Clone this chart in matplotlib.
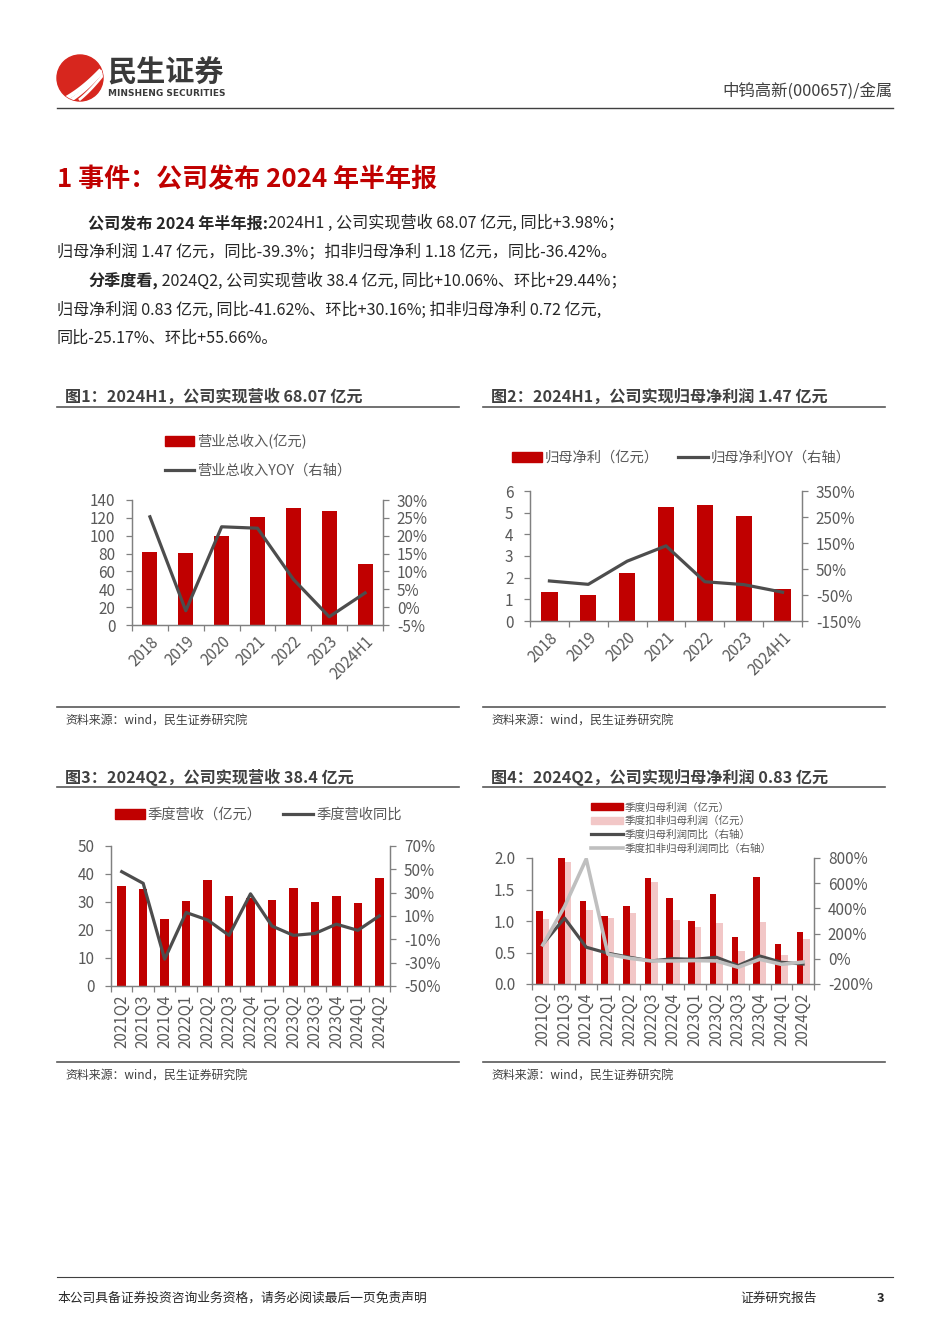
import matplotlib
matplotlib.use('Agg')
import matplotlib.pyplot as plt
import numpy as np
from matplotlib.lines import Line2D
from matplotlib.patches import Circle, Patch

plt.rcParams['font.family'] = ['Noto Sans CJK SC', 'DejaVu Sans']
plt.rcParams['axes.unicode_minus'] = False

W, H = 950, 1344
RED = '#C00000'
PINK = '#F2C7C7'
DARK = '#4D4D4D'
LIGHT = '#BFBFBF'
TICK = '#595959'
TXT = '#262626'
SPINE = '#808080'

# ---- data ----
years = ['2018', '2019', '2020', '2021', '2022', '2023', '2024H1']
revenue = [82.2, 81.0, 99.7, 121.3, 131.3, 127.6, 68.07]
revenue_yoy = [25.3, -1.0, 22.5, 22.1, 7.8, -2.7, 3.98]
net_profit = [1.35, 1.22, 2.22, 5.28, 5.35, 4.85, 1.47]
net_profit_yoy = [4, -9, 80, 139, 1, -10, -39.3]

quarters = ['2021Q2', '2021Q3', '2021Q4', '2022Q1', '2022Q2', '2022Q3', '2022Q4',
            '2023Q1', '2023Q2', '2023Q3', '2023Q4', '2024Q1', '2024Q2']
q_revenue = [35.6, 34.6, 24.0, 30.2, 37.7, 32.0, 31.6, 30.6, 35.0, 30.0, 32.0, 29.8, 38.4]
q_revenue_yoy = [48, 38, -27, 13, 6.6, -6.6, 29, 1.4, -6.6, -5, 3, -2.3, 10.06]
q_profit = [1.16, 2.02, 1.31, 1.08, 1.24, 1.69, 1.37, 1.00, 1.43, 0.74, 1.70, 0.64, 0.83]
q_profit_ded = [1.03, 1.93, 1.18, 1.05, 1.12, 1.62, 1.02, 0.90, 0.97, 0.52, 0.98, 0.46, 0.72]
q_profit_yoy = [116, 323, 92, 44, 12, -17, 1, -4, 12, -54, 22, -28, -41.62]
q_profit_ded_yoy = [110, 415, 792, 36, 4, -17, -17, -14, -17, -67, -4, -44, -25.17]

fig = plt.figure(figsize=(W / 100, H / 100), dpi=100)
renderer = fig.canvas.get_renderer()


def rect(l, t, r, b):
    return [l / W, 1 - b / H, (r - l) / W, (b - t) / H]


def hline(x0, x1, y, color='#404040', lw=1.0):
    fig.add_artist(Line2D([x0 / W, x1 / W], [1 - y / H, 1 - y / H],
                          transform=fig.transFigure, color=color, lw=lw))


def ftext(x, y, s, **kw):
    kw.setdefault('va', 'center')
    return fig.text(x / W, 1 - y / H, s, **kw)


def rich_line(x, y, parts, size=11.6):
    for s, bold in parts:
        t = ftext(x, y, s, fontsize=size, color=TXT,
                  fontweight='bold' if bold else 'normal')
        x = t.get_window_extent(renderer).x1


# ---- header ----
lax = fig.add_axes(rect(55, 53, 105, 103))
lax.set_xlim(55, 105)
lax.set_ylim(103, 53)
lax.axis('off')
circ = Circle((80, 78), 23, color='#D7261E')
lax.add_patch(circ)
for k in range(3):
    tt = np.linspace(0, 1, 30)
    xs = 63 + k * 8 + tt * (38 - k * 3)
    ys = 100 - tt * (30 + k * 3) + 10 * tt * (1 - tt)
    ln, = lax.plot(xs, ys, color='white', lw=3.2 - k * 0.6, solid_capstyle='butt')
    ln.set_clip_path(circ)

ftext(107, 73, '民生证券', fontsize=21, fontweight='bold', color='#3A3A3A')
ftext(108, 93, 'MINSHENG SECURITIES', fontsize=6.5, fontweight='bold', color='#3A3A3A',
      family=['Liberation Sans Narrow', 'DejaVu Sans'])
ftext(893, 91, '中钨高新(000657)/金属', fontsize=11.8, color='#404040', ha='right')
hline(57, 893, 108, lw=1.0)

# ---- section heading and body ----
ftext(57, 180, '1 事件：公司发布 2024 年半年报', fontsize=18.7, fontweight='bold', color=RED)
rich_line(88, 223, [('公司发布 2024 年半年报:', True),
                    ('2024H1 , 公司实现营收 68.07 亿元, 同比+3.98%；', False)])
rich_line(57, 252, [('归母净利润 1.47 亿元，同比-39.3%；扣非归母净利 1.18 亿元，同比-36.42%。', False)])
rich_line(88, 281, [('分季度看,', True),
                    (' 2024Q2, 公司实现营收 38.4 亿元, 同比+10.06%、环比+29.44%；', False)])
rich_line(57, 310, [('归母净利润 0.83 亿元, 同比-41.62%、环比+30.16%; 扣非归母净利 0.72 亿元,', False)])
rich_line(57, 338, [('同比-25.17%、环比+55.66%。', False)])


# ---- chart frames ----
def frame(x0, x1, ytitle, ybottom, title):
    ftext(x0 + 8, ytitle, title, fontsize=11.6, fontweight='bold', color='#404040')
    hline(x0, x1, ytitle + 10, color='#595959', lw=1.2)
    hline(x0, x1, ybottom, color='#595959', lw=1.2)
    ftext(x0 + 8, ybottom + 13, '资料来源：wind，民生证券研究院', fontsize=8.6, color='#404040')


frame(57, 459, 397, 707, '图1：2024H1，公司实现营收 68.07 亿元')
frame(483, 885, 397, 707, '图2：2024H1，公司实现归母净利润 1.47 亿元')
frame(57, 459, 777, 1062, '图3：2024Q2，公司实现营收 38.4 亿元')
frame(483, 885, 777, 1062, '图4：2024Q2，公司实现归母净利润 0.83 亿元')


def style_axes(ax, ax2, labels, rot):
    n = len(labels)
    for a in (ax, ax2):
        a.spines['top'].set_visible(False)
        for s in ('left', 'right', 'bottom'):
            a.spines[s].set_color(SPINE)
            a.spines[s].set_linewidth(0.9)
    ax.tick_params(axis='y', direction='out', length=4, width=0.9, color=SPINE,
                   labelsize=11, labelcolor=TICK, pad=8)
    ax2.tick_params(axis='y', direction='out', length=4, width=0.9, color=SPINE,
                    labelsize=11, labelcolor=TICK, pad=6)
    ax.set_xlim(-0.5, n - 0.5)
    ax.set_xticks(np.arange(n + 1) - 0.5)
    ax.set_xticklabels([])
    ax.set_xticks(np.arange(n), minor=True)
    if rot == 45:
        ax.set_xticklabels(labels, minor=True, rotation=45, ha='right', va='top',
                           rotation_mode='anchor')
    else:
        ax.set_xticklabels(labels, minor=True, rotation=90, ha='center', va='top')
    ax.tick_params(axis='x', which='major', direction='out', length=4, width=0.9, color=SPINE)
    ax.tick_params(axis='x', which='minor', length=0, labelsize=11, labelcolor=TICK, pad=6)


def pct(vals):
    return [f'{v:d}%' for v in vals]


# ---- chart 1 ----
x = np.arange(len(years))
ax = fig.add_axes(rect(132, 500, 383, 625))
ax2 = ax.twinx()
ax.bar(x, revenue, width=0.42, color=RED)
ax2.plot(x, revenue_yoy, color=DARK, lw=2.3)
ax.set_ylim(0, 140)
ax.set_yticks(range(0, 141, 20))
ax2.set_ylim(-5, 30)
ax2.set_yticks(range(-5, 31, 5))
ax2.set_yticklabels(pct(range(-5, 31, 5)))
style_axes(ax, ax2, years, 45)
h = [Patch(color=RED), Line2D([], [], color=DARK, lw=2.3)]
fig.legend(h, ['营业总收入(亿元)', '营业总收入YOY（右轴）'], loc='upper left',
           bbox_to_anchor=(165 / W, 1 - 434 / H), frameon=False, fontsize=10.3,
           handlelength=2.0, handletextpad=0.25, labelspacing=1.0, borderpad=0,
           borderaxespad=0, labelcolor=TICK)

# ---- chart 2 ----
ax = fig.add_axes(rect(530, 491, 802, 621))
ax2 = ax.twinx()
ax.bar(x, net_profit, width=0.42, color=RED)
ax2.plot(x, net_profit_yoy, color=DARK, lw=2.3)
ax.set_ylim(0, 6)
ax.set_yticks(range(0, 7))
ax2.set_ylim(-150, 350)
ax2.set_yticks(range(-150, 351, 100))
ax2.set_yticklabels(pct(range(-150, 351, 100)))
style_axes(ax, ax2, years, 45)
h = [Patch(color=RED), Line2D([], [], color=DARK, lw=2.3)]
fig.legend(h, ['归母净利（亿元）', '归母净利YOY（右轴）'], loc='upper left', ncol=2,
           bbox_to_anchor=(512 / W, 1 - 451 / H), frameon=False, fontsize=10.3,
           handlelength=2.1, handletextpad=0.2, columnspacing=1.3, borderpad=0,
           borderaxespad=0, labelcolor=TICK)

# ---- chart 3 ----
xq = np.arange(len(quarters))
ax = fig.add_axes(rect(111, 846, 390, 986))
ax2 = ax.twinx()
ax.bar(xq, q_revenue, width=0.4, color=RED)
ax2.plot(xq, q_revenue_yoy, color=DARK, lw=2.3)
ax.set_ylim(0, 50)
ax.set_yticks(range(0, 51, 10))
ax2.set_ylim(-50, 70)
ax2.set_yticks(range(-50, 71, 20))
ax2.set_yticklabels(pct(range(-50, 71, 20)))
style_axes(ax, ax2, quarters, 90)
h = [Patch(color=RED), Line2D([], [], color=DARK, lw=2.3)]
fig.legend(h, ['季度营收（亿元）', '季度营收同比'], loc='upper left', ncol=2,
           bbox_to_anchor=(115 / W, 1 - 808 / H), frameon=False, fontsize=10.3,
           handlelength=2.1, handletextpad=0.2, columnspacing=1.5, borderpad=0,
           borderaxespad=0, labelcolor=TICK)

# ---- chart 4 ----
ax = fig.add_axes(rect(532, 858, 814, 984))
ax2 = ax.twinx()
ax.bar(xq - 0.15, q_profit, width=0.3, color=RED)
ax.bar(xq + 0.15, q_profit_ded, width=0.3, color=PINK)
ax2.plot(xq, q_profit_yoy, color=DARK, lw=2.3)
ax2.plot(xq, q_profit_ded_yoy, color=LIGHT, lw=2.6)
ax.set_ylim(0, 2.0)
ax.set_yticks(np.arange(0, 2.01, 0.5))
ax.set_yticklabels([f'{v:.1f}' for v in np.arange(0, 2.01, 0.5)])
ax2.set_ylim(-200, 800)
ax2.set_yticks(range(-200, 801, 200))
ax2.set_yticklabels(pct(range(-200, 801, 200)))
style_axes(ax, ax2, quarters, 90)
h = [Patch(color=RED), Patch(color=PINK), Line2D([], [], color=DARK, lw=2.3),
     Line2D([], [], color=LIGHT, lw=2.6)]
fig.legend(h, ['季度归母利润（亿元）', '季度扣非归母利润（亿元）', '季度归母利润同比（右轴）',
               '季度扣非归母利润同比（右轴）'], loc='upper left',
           bbox_to_anchor=(591 / W, 1 - 802 / H), frameon=False, fontsize=7.6,
           handlelength=3.0, handletextpad=0.2, labelspacing=0.32, borderpad=0,
           borderaxespad=0, labelcolor=TICK)

# ---- footer ----
hline(57, 893, 1277, color='#404040', lw=0.8)
ftext(57, 1298, '本公司具备证券投资咨询业务资格，请务必阅读最后一页免责声明', fontsize=9.2, color=TXT)
ftext(740, 1298, '证券研究报告', fontsize=9.2, color=TXT)
ftext(884, 1298, '3', fontsize=9.2, color=TXT, fontweight='bold', ha='right')

fig.savefig('out.png', dpi=100)
